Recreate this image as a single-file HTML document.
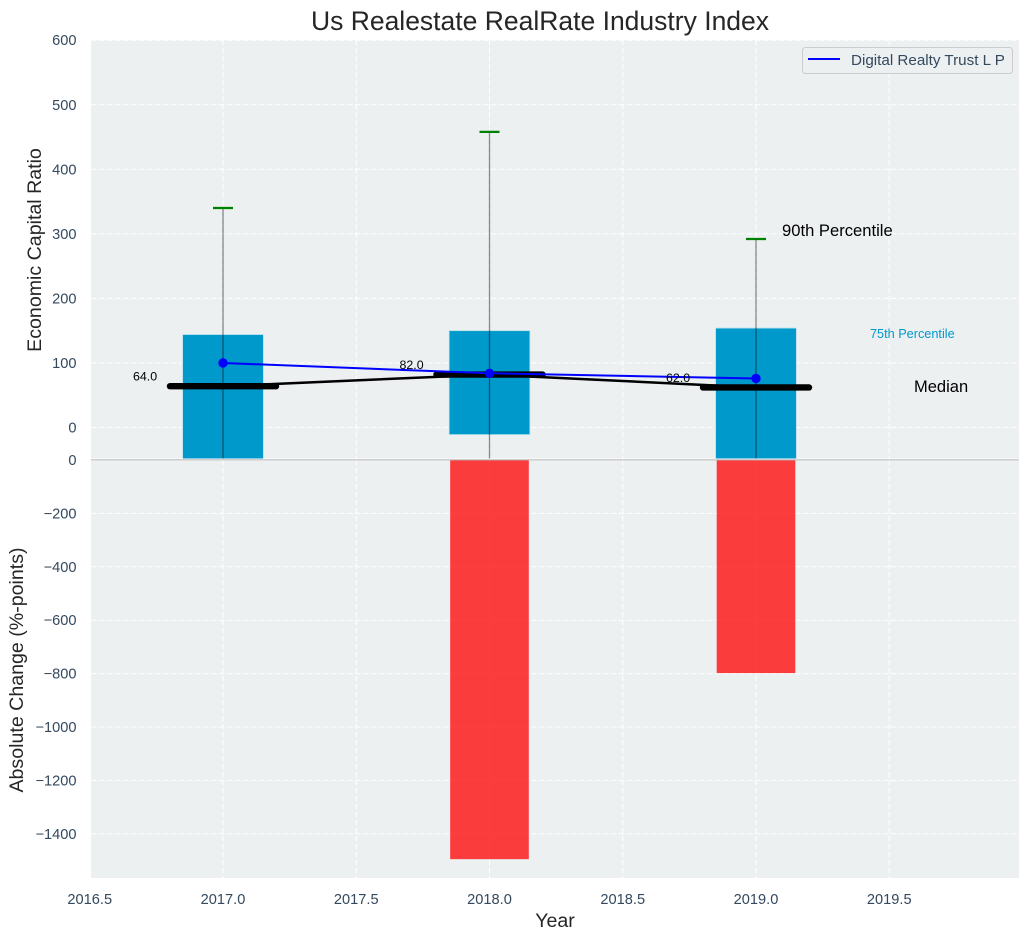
<!DOCTYPE html>
<html>
<head>
<meta charset="utf-8">
<title>Us Realestate RealRate Industry Index</title>
<style>
html,body{margin:0;padding:0;background:#fff;}
svg{display:block;font-family:"Liberation Sans",Arial,sans-serif;}
</style>
</head>
<body>
<svg id="chart" width="1029" height="940" viewBox="0 0 1029 940" xmlns="http://www.w3.org/2000/svg"></svg>
<script>
const years = [2017, 2018, 2019];
const xTicks = [2016.5, 2017.0, 2017.5, 2018.0, 2018.5, 2019.0, 2019.5];
const topTicks = [0, 100, 200, 300, 400, 500, 600];
const bottomTicks = [0, -200, -400, -600, -800, -1000, -1200, -1400];
const p25 = [-60, -11, -60];
const p75 = [144, 150, 154];
const p90 = [340, 458, 292];
const median = [64, 82, 62];
const companyValues = [100, 84, 76];
const absoluteChange = [0, -1495, -798];

const NS = 'http://www.w3.org/2000/svg';
const svg = document.getElementById('chart');
const L = 91, R = 1019, T1 = 40, B1 = 458.5, B2T = 460, B2 = 878;
const x = v => 223 + (v - 2017) * 266.5;
const yT = v => 427.5 - v * 0.6455;
const yB = v => 460 - v * 0.2670;

function el(tag, attrs, parent) {
  const e = document.createElementNS(NS, tag);
  for (const k in attrs) e.setAttribute(k, attrs[k]);
  (parent || svg).appendChild(e);
  return e;
}
function txt(content, attrs, parent) {
  const e = el('text', attrs, parent);
  e.textContent = content;
  return e;
}
const fmtNum = v => (v < 0 ? '\u2212' + Math.abs(v) : String(v));

const defs = el('defs', {});
const cp1 = el('clipPath', {id: 'clip-top'}, defs);
el('rect', {x: L, y: T1, width: R - L, height: B1 - T1}, cp1);
const cp2 = el('clipPath', {id: 'clip-bottom'}, defs);
el('rect', {x: L, y: B2T, width: R - L, height: B2 - B2T}, cp2);

/* axes backgrounds */
const bgTop = el('rect', {x: L, y: T1, width: R - L, height: B1 - T1, fill: '#ecf0f1'});


const bgBottom = el('rect', {x: L, y: B2T, width: R - L, height: B2 - B2T, fill: '#ecf0f1'});



/* grid */
const gridDash = '5.5 2.5';
xTicks.forEach(t => {
  if (x(t) < L) return;
  const g1 = el('line', {x1: x(t), x2: x(t), y1: T1, y2: B1, stroke: '#fff', 'stroke-width': 1, 'stroke-dasharray': gridDash});
  
  
  const g2 = el('line', {x1: x(t), x2: x(t), y1: B2T, y2: B2, stroke: '#fff', 'stroke-width': 1, 'stroke-dasharray': gridDash});
  
  
});
topTicks.forEach(t => {
  const g = el('line', {x1: L, x2: R, y1: yT(t), y2: yT(t), stroke: '#fff', 'stroke-width': 1, 'stroke-dasharray': gridDash});
  
  
  const lab = txt(fmtNum(t), {x: 76.5, y: yT(t) + 5, 'text-anchor': 'end', 'font-size': 14.6, fill: '#34495e'});
  
  
});
bottomTicks.forEach(t => {
  const g = el('line', {x1: L, x2: R, y1: yB(t), y2: yB(t), stroke: '#fff', 'stroke-width': 1, 'stroke-dasharray': gridDash});
  
  
  const lab = txt(fmtNum(t), {x: 76.5, y: yB(t) + 5, 'text-anchor': 'end', 'font-size': 14.6, fill: '#34495e'});
  
  
});
xTicks.forEach(t => {
  const lab = txt(t.toFixed(1), {x: x(t), y: 904, 'text-anchor': 'middle', 'font-size': 14.6, fill: '#34495e'});
  
  
});

/* top panel marks */
const gTop = el('g', {'clip-path': 'url(#clip-top)'});


const barW = 0.303 * 266.5;
years.forEach((yr, i) => {
  const yTop = yT(p75[i]), yBot = yT(p25[i]);
  const bar = el('rect', {x: x(yr) - barW / 2, y: yTop, width: barW, height: yBot - yTop, fill: '#0099cc', stroke: '#b9dfec', 'stroke-width': 0.8}, gTop);
  
  
});
const medLine = el('polyline', {points: years.map((yr, i) => x(yr) + ',' + yT(median[i])).join(' '), fill: 'none', stroke: '#000', 'stroke-width': 2.5}, gTop);


years.forEach((yr, i) => {
  const m = el('line', {x1: x(yr) - 53, x2: x(yr) + 53, y1: yT(median[i]), y2: yT(median[i]), stroke: '#000', 'stroke-width': 6.4, 'stroke-linecap': 'round'}, gTop);
  
  
});
years.forEach((yr, i) => {
  const w = el('line', {x1: x(yr), x2: x(yr), y1: yT(p90[i]), y2: B1, stroke: '#000', 'stroke-opacity': 0.45, 'stroke-width': 1.3}, gTop);
  
  
  const c = el('line', {x1: x(yr) - 10, x2: x(yr) + 10, y1: yT(p90[i]), y2: yT(p90[i]), stroke: '#008000', 'stroke-width': 2.2}, gTop);
  
  
});
const compLine = el('polyline', {points: years.map((yr, i) => x(yr) + ',' + yT(companyValues[i])).join(' '), fill: 'none', stroke: '#0000ff', 'stroke-width': 2}, gTop);


years.forEach((yr, i) => {
  const d = el('circle', {cx: x(yr), cy: yT(companyValues[i]), r: 4.7, fill: '#0000ff'}, gTop);
  
  
});
years.forEach((yr, i) => {
  const t = txt(median[i].toFixed(1), {x: x(yr) - 90, y: yT(median[i]) - 5.5, 'font-size': 12.4, fill: '#000'});
  
  
});

/* bottom panel marks */
const gBot = el('g', {'clip-path': 'url(#clip-bottom)'});


const redW = 0.295 * 266.5;
years.forEach((yr, i) => {
  const b = el('rect', {x: x(yr) - redW / 2, y: yB(0), width: redW, height: yB(absoluteChange[i]) - yB(0), fill: '#ff0000', 'fill-opacity': 0.75}, gBot);
  
  
});
const zero = el('line', {x1: L, x2: R, y1: 459.8, y2: 459.8, stroke: '#bdbdbd', 'stroke-width': 1.2});



/* annotations */
const a90 = txt('90th Percentile', {x: 782, y: 236, 'font-size': 16.6, fill: '#000'});


const a75 = txt('75th Percentile', {x: 870, y: 338, 'font-size': 12.7, fill: '#0099cc'});


const aMed = txt('Median', {x: 914, y: 392, 'font-size': 16.5, fill: '#000'});



/* titles */
const title = txt('Us Realestate RealRate Industry Index', {x: 540, y: 30, 'text-anchor': 'middle', 'font-size': 26.5, fill: '#262626'});


const xTitle = txt('Year', {x: 555, y: 927, 'text-anchor': 'middle', 'font-size': 19.6, fill: '#262626'});


const yTitle1 = txt('Economic Capital Ratio', {x: 0, y: 0, transform: 'translate(41,250) rotate(-90)', 'text-anchor': 'middle', 'font-size': 19.6, fill: '#262626'});


const yTitle2 = txt('Absolute Change (%-points)', {x: 0, y: 0, transform: 'translate(23,670) rotate(-90)', 'text-anchor': 'middle', 'font-size': 19.6, fill: '#262626'});



/* legend */
const lg = el('g', {});


el('rect', {x: 802.5, y: 47.5, width: 210, height: 26, rx: 3, fill: '#ecf0f1', 'fill-opacity': 0.9, stroke: '#cccccc', 'stroke-width': 1}, lg);
const lgLine = el('line', {x1: 808, x2: 840, y1: 59, y2: 59, stroke: '#0000ff', 'stroke-width': 2}, lg);


const lgText = txt('Digital Realty Trust L P', {x: 851, y: 65, 'font-size': 15.2, fill: '#34495e'}, lg);


</script>
</body>
</html>
